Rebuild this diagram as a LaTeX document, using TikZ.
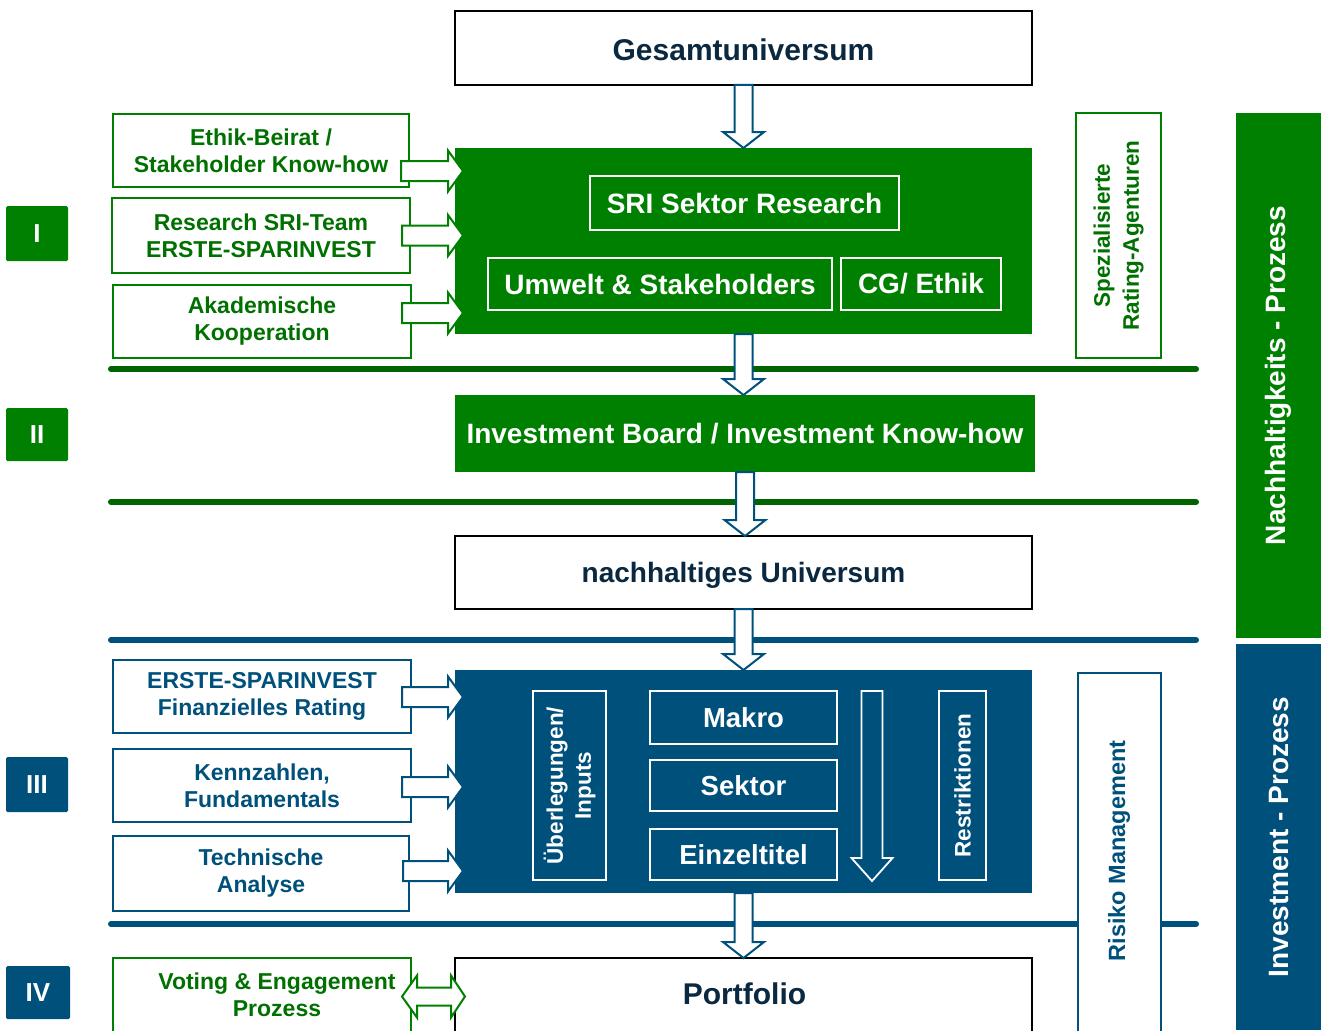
\documentclass[tikz,border=0pt]{standalone}
\usepackage{fontspec}
\setmainfont{Liberation Sans}
\usetikzlibrary{calc}
\definecolor{gfill}{RGB}{0,128,0}
\definecolor{gdark}{RGB}{0,100,0}
\definecolor{gtext}{RGB}{0,112,0}
\definecolor{bfill}{RGB}{0,80,124}
\definecolor{navy}{RGB}{10,40,64}
\newcommand{\fs}[2]{\fontsize{#1}{#2}\selectfont\bfseries}
% vertical block arrow: from, to, style, shaft half width, head half width, head length
\newcommand{\varrow}[6]{\draw[#3] let \p1=(#1), \p2=(#2) in
  (\x1-#4,\y1) -- (\x1-#4,\y2+#6) -- (\x1-#5,\y2+#6) -- (\x1,\y2) --
  (\x1+#5,\y2+#6) -- (\x1+#4,\y2+#6) -- (\x1+#4,\y1) -- cycle;}
% horizontal block arrow
\newcommand{\harrow}[6]{\draw[#3] let \p1=(#1), \p2=(#2) in
  (\x1,\y1+#4) -- (\x2-#6,\y1+#4) -- (\x2-#6,\y1+#5) -- (\x2,\y1) --
  (\x2-#6,\y1-#5) -- (\x2-#6,\y1-#4) -- (\x1,\y1-#4) -- cycle;}
% double block arrow
\newcommand{\darrow}[3]{\draw[#3] let \p1=(#1), \p2=(#2) in
  (\x1,\y1) -- (\x1+15pt,\y1+21pt) -- (\x1+15pt,\y1+9pt) -- (\x2-14pt,\y1+9pt) --
  (\x2-14pt,\y1+21pt) -- (\x2,\y1) -- (\x2-14pt,\y1-21pt) -- (\x2-14pt,\y1-9pt) --
  (\x1+15pt,\y1-9pt) -- (\x1+15pt,\y1-21pt) -- cycle;}
\tikzset{
  base/.style={inner sep=0pt, outer sep=0pt, align=center},
  blackbox/.style={base, draw=black, line width=2.4pt, fill=white, text=navy},
  greenfill/.style={base, fill=gfill, text=white},
  bluefill/.style={base, fill=bfill, text=white},
  whitebox/.style={base, draw=white, line width=1.8pt, text=white},
  gbox/.style={base, draw=gfill, line width=2pt, fill=white, text=gtext, font=\fs{23}{27}},
  bbox/.style={base, draw=bfill, line width=2pt, fill=white, text=bfill, font=\fs{23}{27}},
  numbox/.style={base, rounded corners=1.5pt, text=white, font=\fs{26}{30}},
  garrow/.style={draw=gfill, fill=white, line width=2pt},
  barrow/.style={draw=bfill, fill=white, line width=2pt},
  warrow/.style={draw=white, line width=1.8pt},
  gline/.style={draw=gdark, line width=6pt, line cap=round},
  bline/.style={draw=bfill, line width=6pt, line cap=round},
}
\begin{document}
\begin{tikzpicture}[x=1pt,y=-1pt]
\useasboundingbox (0,0) rectangle (1321,1030);
\clip (0,0) rectangle (1321,1030);

% separator lines
\draw[gline] (111,369) -- (1196,369);
\draw[gline] (111,502) -- (1196,502);
\draw[bline] (111,640) -- (1196,640);
\draw[bline] (111,924) -- (1196,924);

% roman numerals
\node[numbox, fill=gfill, minimum width=62pt, minimum height=55pt] (n1) at (37,233.5) {I};
\node[numbox, fill=gfill, minimum width=62pt, minimum height=53pt] (n2) at (37,434.5) {II};
\node[numbox, fill=bfill, minimum width=62pt, minimum height=55pt] (n3) at (37,784.5) {III};
\node[numbox, fill=bfill, minimum width=64pt, minimum height=53pt] (n4) at (38,992.5) {IV};

% right process bars
\node[greenfill, rotate=90, minimum width=525pt, minimum height=85pt, font=\fs{28}{32}] (barG) at (1278.5,375.5) {Nachhaltigkeits - Prozess};
\node[bluefill, rotate=90, minimum width=386pt, minimum height=85pt, font=\fs{28}{32}] (barB) at (1278.5,837) {Investment - Prozess};

% main column
\node[blackbox, minimum width=577pt, minimum height=74pt, font=\fs{30}{36}, text height=25pt, text depth=0pt] (gesamt) at (743.5,48) {Gesamtuniversum};
\node[greenfill, minimum width=577pt, minimum height=186pt] (green1) at (743.5,241) {};
\node[whitebox, minimum width=309pt, minimum height=54pt, font=\fs{28}{32}] (sri) at (744.5,203) {SRI Sektor Research};
\node[whitebox, minimum width=344pt, minimum height=52pt, font=\fs{28}{32}] (umwelt) at (660,284) {Umwelt \& Stakeholders};
\node[whitebox, minimum width=160pt, minimum height=52pt, font=\fs{28}{32}] (cg) at (921,284) {CG/ Ethik};

\node[greenfill, minimum width=580pt, minimum height=77pt, font=\fs{28}{32}] (board) at (745,433.5) {Investment Board / Investment Know-how};
\node[blackbox, minimum width=577pt, minimum height=73pt, font=\fs{28}{34}, text depth=0pt] (nachh) at (743.5,572.5) {nachhaltiges Universum};

\node[bluefill, minimum width=577pt, minimum height=223pt] (blue3) at (743.5,781.5) {};
\node[whitebox, rotate=90, minimum width=189pt, minimum height=73pt, font=\fs{22.5}{28}] (ueber) at (569.5,785.5) {Überlegungen/\\Inputs};
\node[whitebox, minimum width=187pt, minimum height=53pt, font=\fs{27.5}{32}] (makro) at (743.5,717.5) {Makro};
\node[whitebox, minimum width=187pt, minimum height=51pt, font=\fs{27.5}{32}] (sektor) at (743.5,785.5) {Sektor};
\node[whitebox, minimum width=187pt, minimum height=51pt, font=\fs{27.5}{32}] (einzel) at (743.5,854.5) {Einzeltitel};
\node[whitebox, rotate=90, minimum width=189pt, minimum height=47pt, font=\fs{22.5}{28}] (restr) at (962.5,785.5) {Restriktionen};
\coordinate (ftop) at (872,691);
\coordinate (fbot) at (872,881);

\node[blackbox, minimum width=577pt, minimum height=87pt] (portf) at (743.5,1001.5) {};
\node[base, text=navy, font=\fs{30}{36}] (portft) at (744.5,994) {Portfolio};

% left input boxes
\node[gbox, minimum width=296pt, minimum height=73pt, text depth=0pt] (ethik) at (261,150.5) {Ethik-Beirat /\\Stakeholder Know-how};
\node[gbox, minimum width=298pt, minimum height=75pt] (research) at (261,235.5) {Research SRI-Team\\ERSTE-SPARINVEST};
\node[gbox, minimum width=298pt, minimum height=73pt] (akad) at (262,321.5) {Akademische\\Kooperation};

\node[bbox, minimum width=298pt, minimum height=73pt] (erste) at (262,696.5) {ERSTE-SPARINVEST\\Finanzielles Rating};
\node[bbox, minimum width=298pt, minimum height=73pt] (kenn) at (262,785.5) {Kennzahlen,\\Fundamentals};
\node[bbox, minimum width=296pt, minimum height=75pt] (techn) at (261,873.5) {Technische\\Analyse};

\node[gbox, minimum width=298pt, minimum height=87pt] (voting) at (262,1001.5) {};
\node[base, text=gtext, font=\fs{23}{27}] (votingt) at (277,995) {Voting \& Engagement\\Prozess};

% right side boxes
\node[gbox, rotate=90, minimum width=245pt, minimum height=85pt, font=\fs{22.5}{29}] (spez) at (1118.5,235.5) {Spezialisierte\\Rating-Agenturen};
\node[bbox, minimum width=83pt, minimum height=372pt] (risiko) at (1119.5,859) {};
\node[base, rotate=90, text=bfill, font=\fs{23.5}{27}] (risikot) at (1119,851) {Risiko Management};

% vertical flow arrows
\varrow{gesamt.south}{green1.north}{barrow}{9pt}{20.5pt}{16pt}
\varrow{green1.south}{board.north}{barrow}{9pt}{20.5pt}{16pt}
\varrow{board.south}{nachh.north}{barrow}{9pt}{20.5pt}{16pt}
\varrow{nachh.south}{blue3.north}{barrow}{9pt}{20.5pt}{16pt}
\varrow{blue3.south}{portf.north}{barrow}{9pt}{20.5pt}{16pt}
\varrow{ftop}{fbot}{warrow}{10.5pt}{20.5pt}{23pt}

% input arrows
\harrow{$(ethik.east)+(-8,20.5)$}{$(green1.west)+(8,0)$}{garrow}{10pt}{20.5pt}{15pt}
\harrow{$(research.east)+(-8,0)$}{$(green1.west)+(8,0)$}{garrow}{10pt}{20.5pt}{15pt}
\harrow{$(akad.east)+(-9,-8.5)$}{$(green1.west)+(8,0)$}{garrow}{10pt}{20.5pt}{15pt}
\harrow{$(erste.east)+(-9,0.5)$}{$(blue3.west)+(8,0)$}{barrow}{10pt}{20.5pt}{15pt}
\harrow{$(kenn.east)+(-9,1.5)$}{$(blue3.west)+(8,0)$}{barrow}{10pt}{20.5pt}{15pt}
\harrow{$(techn.east)+(-6,-2.5)$}{$(blue3.west)+(8,0)$}{barrow}{10pt}{20.5pt}{15pt}
\darrow{$(voting.east)+(-9,-5)$}{$(portf.west)+(10,0)$}{garrow}
\end{tikzpicture}
\end{document}
